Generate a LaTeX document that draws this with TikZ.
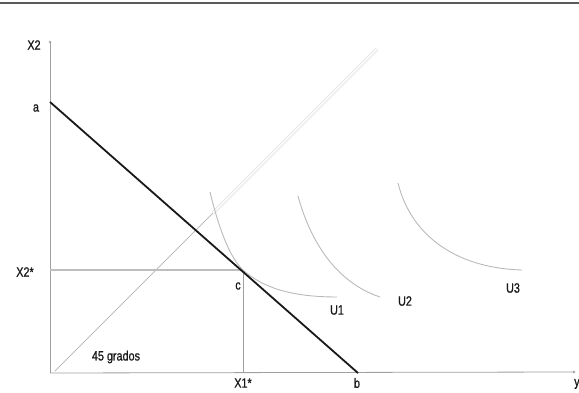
\documentclass[tikz,border=0pt]{standalone}
\usepackage{fontspec}
\setmainfont{Liberation Sans}[FakeStretch=0.8, FakeBold=0.8]
\usetikzlibrary{positioning,arrows.meta,calc}
\definecolor{ink}{RGB}{25,25,25}
\definecolor{rulegray}{RGB}{90,90,90}
\definecolor{axisgray}{RGB}{160,160,160}
\definecolor{guide}{RGB}{190,190,190}
\definecolor{curvegray}{RGB}{185,185,185}
\definecolor{faint}{RGB}{220,220,220}
\tikzset{
  lbl/.style={font=\fontsize{13.5}{15}\selectfont, text=ink, inner sep=1pt},
  axis/.style={draw=axisgray, line width=0.8pt, -{Latex[length=3pt,width=3pt]}},
  budget/.style={draw=ink, line width=1.8pt},
  guideline/.style={draw=guide, line width=1pt},
  icurve/.style={draw=curvegray, line width=0.9pt},
  diag/.style={draw=faint, line width=0.7pt, double=white, double distance=1.6pt},
}
\begin{document}
\begin{tikzpicture}[x=1pt, y=-1pt]
  \useasboundingbox (0,0) rectangle (579,393);
  \draw[draw=rulegray, line width=1.4pt] (0,3) -- (579,3);

  % points
  \coordinate (O) at (50,373);
  \coordinate (ytop) at (50,40);
  \coordinate (xend) at (576,372);
  \coordinate (a) at (50,102);
  \coordinate (b) at (358,373);
  \coordinate (c) at (243,270);
  \coordinate (cy) at (50,270);
  \coordinate (cx) at (243,373);
  \coordinate (d0) at (55,371);
  \coordinate (d1) at (213,213);
  \coordinate (d2) at (377,49);

  % axes
  \draw[axis] (O) -- (ytop);
  \draw[axis] (O) -- (xend);

  % 45 degree line
  \draw[guideline] (d0) -- (d1);
  \draw[diag] (d1) -- (d2);

  % optimum guides
  \draw[guideline] (cy) -- (c);
  \draw[draw=axisgray, line width=0.6pt] (c) -- (cx);

  % indifference curves
  \draw[icurve] (210,192) .. controls (218,225) and (229,257) .. (c)
                          .. controls (262,287) and (290,297) .. (337,297);
  \draw[icurve] (298,196) .. controls (310,240) and (335,282) .. (380,297);
  \draw[icurve] (398,183) .. controls (410,232) and (452,268) .. (522,270);

  % budget line
  \draw[budget] (a) -- (b);

  % labels
  \node[lbl] (lx2) at (34,45) {X2};
  \node[lbl] (la) at (36,108) {a};
  \node[lbl] (lx2s) at (25,272) {X2*};
  \node[lbl] (lc) at (238,286) {c};
  \node[lbl] (l45) at (116,357) {45 grados};
  \node[lbl] (lx1s) at (243,383) {X1*};
  \node[lbl] (lb) at (357,383) {b};
  \node[lbl, anchor=west] (ly) at (573,384) {y};
  \node[lbl] (lu1) at (337,310) {U1};
  \node[lbl] (lu2) at (405,301) {U2};
  \node[lbl] (lu3) at (513,288) {U3};
\end{tikzpicture}
\end{document}
